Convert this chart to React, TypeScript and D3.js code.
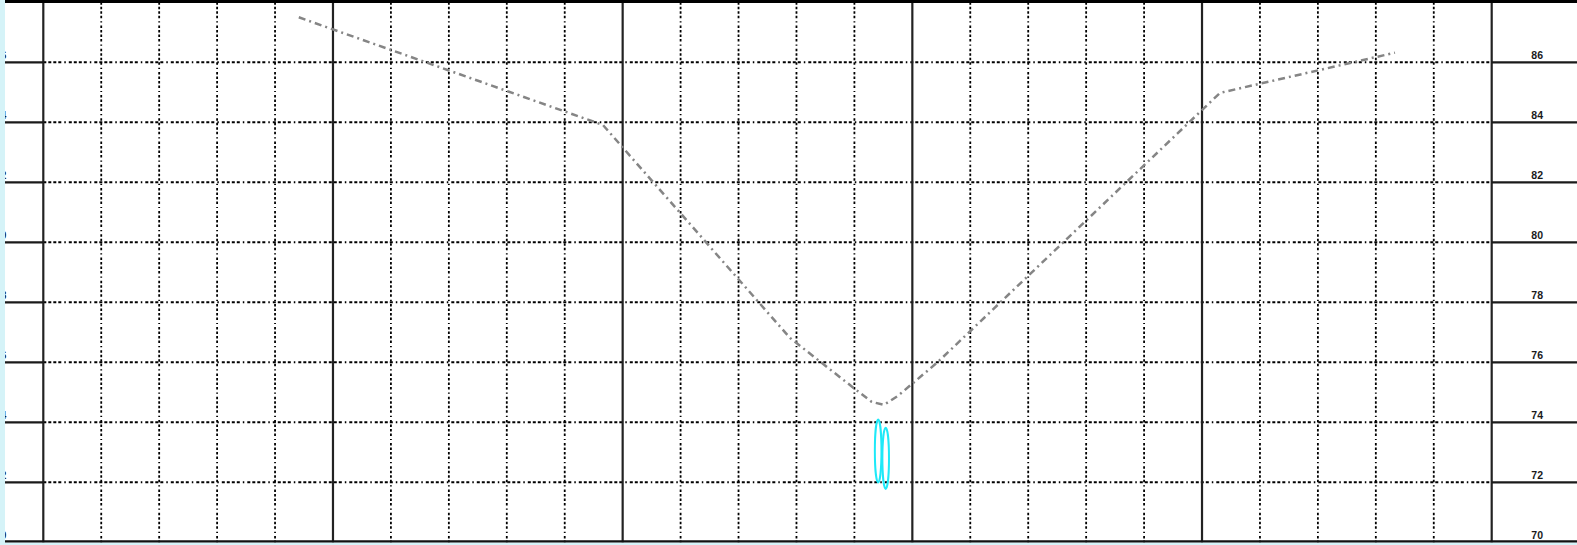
import * as d3 from "d3";
import { useEffect, useRef } from "react";

// grid: 25 minor columns, every 5th one drawn solid
const minorCols = d3.range(0, 26);
const majorEvery = 5;

// value axis (same labels both sides)
const yTicks = [86, 84, 82, 80, 78, 76, 74, 72, 70];
const yGrid = [86, 84, 82, 80, 78, 76, 74, 72];

// dash-dot trace
const traceX = [4.41, 9.66, 12.89, 14.01, 14.3, 14.51, 14.75, 15.44, 20.31, 23.33];
const traceY = [87.5, 83.91, 76.81, 75.11, 74.68, 74.58, 74.88, 76.01, 84.98, 86.32];

// cyan ellipse markers under the minimum
const markX = [14.41, 14.54];
const markY = [73.04, 72.8];
const markHalf = [1.05, 1.02];

const W = 1577;
const H = 545;

function GridChart() {
  const ref = useRef<SVGSVGElement>(null);

  useEffect(() => {
    const svg = d3.select(ref.current);
    svg.selectAll("*").remove();

    const x = d3.scaleLinear().domain([0, 25]).range([43.3, 1491.7]);
    const y = d3.scaleLinear().domain([70, 88]).range([542.3, 2.3]);
    const left = x(0);
    const right = x(25);

    svg.append("rect").attr("width", W).attr("height", H).attr("fill", "#d5f3f8");
    svg
      .append("rect")
      .attr("x", 5)
      .attr("y", 0)
      .attr("width", W - 5)
      .attr("height", y(70) + 0.2)
      .attr("fill", "#fff");

    const dash = "3,2,3,2,3,2,3,3,1.5,3";

    // horizontal dash-dot grid
    svg
      .append("g")
      .selectAll("line")
      .data(yGrid)
      .join("line")
      .attr("x1", left)
      .attr("x2", right)
      .attr("y1", (d) => y(d))
      .attr("y2", (d) => y(d))
      .attr("stroke", "#000")
      .attr("stroke-width", 2)
      .attr("stroke-dasharray", dash);

    // minor verticals
    svg
      .append("g")
      .selectAll("line")
      .data(minorCols.filter((d) => d % majorEvery !== 0))
      .join("line")
      .attr("x1", (d) => x(d))
      .attr("x2", (d) => x(d))
      .attr("y1", y(88))
      .attr("y2", y(70))
      .attr("stroke", "#000")
      .attr("stroke-width", 1.8)
      .attr("stroke-dasharray", "2.5,2,2.5,2,2.5,2,2.5,3,1.2,3");

    // major verticals (incl. both axes)
    svg
      .append("g")
      .selectAll("line")
      .data(minorCols.filter((d) => d % majorEvery === 0))
      .join("line")
      .attr("x1", (d) => x(d))
      .attr("x2", (d) => x(d))
      .attr("y1", 0)
      .attr("y2", y(70))
      .attr("stroke", "#222")
      .attr("stroke-width", 2.2);

    // tick lines outside the plot
    const ticks = svg.append("g").attr("stroke", "#1a1a1a").attr("stroke-width", 2.2);
    ticks
      .selectAll("line.l")
      .data(yGrid)
      .join("line")
      .attr("class", "l")
      .attr("x1", 5)
      .attr("x2", left)
      .attr("y1", (d) => y(d))
      .attr("y2", (d) => y(d));
    ticks
      .selectAll("line.r")
      .data(yGrid)
      .join("line")
      .attr("class", "r")
      .attr("x1", right)
      .attr("x2", W)
      .attr("y1", (d) => y(d))
      .attr("y2", (d) => y(d));

    // frame top / bottom
    svg
      .append("line")
      .attr("x1", 5)
      .attr("x2", W)
      .attr("y1", 1.4)
      .attr("y2", 1.4)
      .attr("stroke", "#000")
      .attr("stroke-width", 3);
    svg
      .append("line")
      .attr("x1", 5)
      .attr("x2", W)
      .attr("y1", y(70) - 1)
      .attr("y2", y(70) - 1)
      .attr("stroke", "#111")
      .attr("stroke-width", 2.2);

    // labels
    const font = "'Liberation Sans', Arial, sans-serif";
    svg
      .append("g")
      .selectAll("text")
      .data(yTicks)
      .join("text")
      .attr("x", right + 45.5)
      .attr("y", (d) => y(d) - 3.5)
      .attr("text-anchor", "middle")
      .attr("font-family", font)
      .attr("font-size", 10.5)
      .attr("font-weight", "bold")
      .attr("fill", "#1a1a1a")
      .text((d) => d);
    svg
      .append("g")
      .selectAll("text")
      .data(yTicks)
      .join("text")
      .attr("x", 0.5)
      .attr("y", (d) => y(d) - 3.5)
      .attr("text-anchor", "middle")
      .attr("font-family", font)
      .attr("font-size", 10.5)
      .attr("font-weight", "bold")
      .attr("fill", "#1a1a1a")
      .text((d) => d);
    svg.append("rect").attr("width", 5).attr("height", H).attr("fill", "#d5f3f8");

    // trace
    const pts = traceX.map((d, i) => [d, traceY[i]] as [number, number]);
    const line = d3
      .line<[number, number]>()
      .x((d) => x(d[0]))
      .y((d) => y(d[1]));
    svg
      .append("path")
      .datum(pts)
      .attr("fill", "none")
      .attr("stroke", "#858585")
      .attr("stroke-width", 2.5)
      .attr("stroke-linejoin", "round")
      .attr("stroke-dasharray", "7,4,2,4")
      .attr("d", line);

    // ellipses
    svg
      .append("g")
      .selectAll("ellipse")
      .data(markX)
      .join("ellipse")
      .attr("cx", (d) => x(d))
      .attr("cy", (_, i) => y(markY[i]))
      .attr("rx", 3.3)
      .attr("ry", (_, i) => y(markY[i] - markHalf[i]) - y(markY[i]))
      .attr("fill", "none")
      .attr("stroke", "#1ee9f8")
      .attr("stroke-width", 2);
  }, []);

  return (
    <svg
      ref={ref}
      width={W}
      height={H}
      style={{ position: "absolute", left: 0, top: 0, display: "block" }}
    />
  );
}

export default function App() {
  return <GridChart />;
}
